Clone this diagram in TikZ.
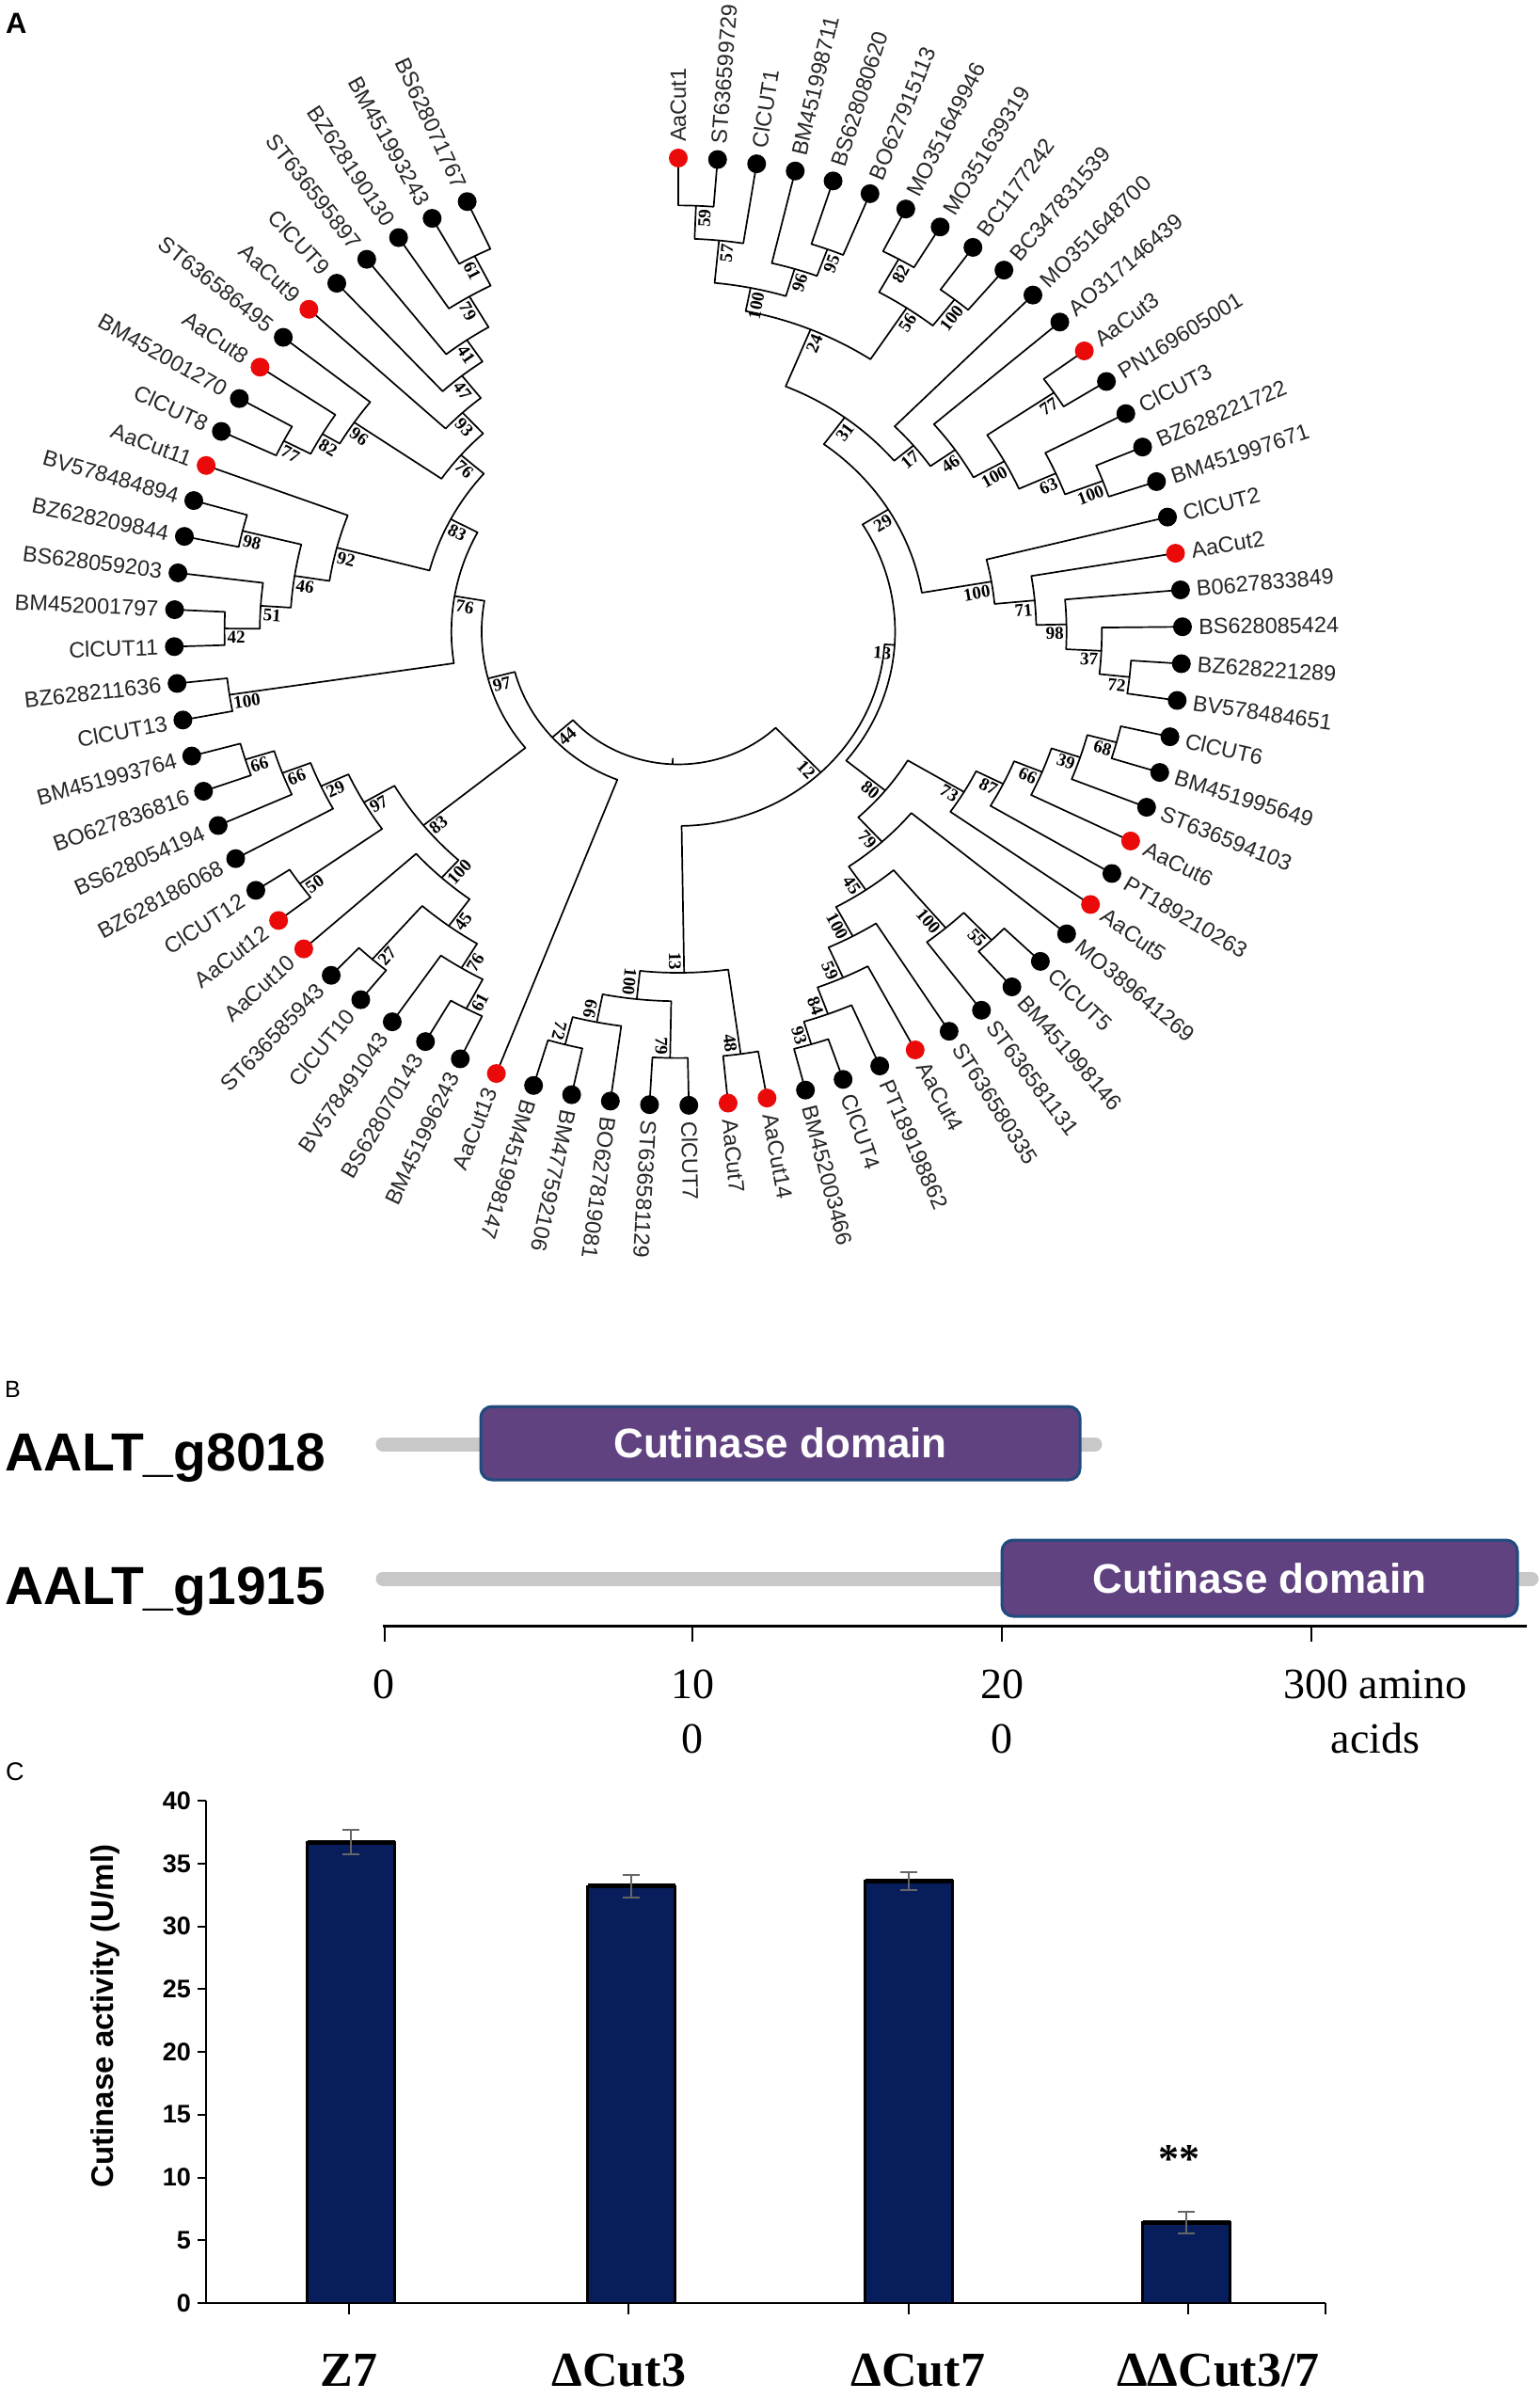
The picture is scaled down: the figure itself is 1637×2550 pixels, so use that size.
\documentclass[tikz,border=0pt]{standalone}
\usepackage{fontspec}
\setmainfont{Liberation Serif}
\newfontfamily\arialf{Liberation Sans}
\newfontfamily\tnrf{Liberation Serif}
\usetikzlibrary{calc}
\definecolor{rd}{RGB}{235,10,10}
\definecolor{bk}{RGB}{0,0,0}
\definecolor{dompurple}{RGB}{96,66,128}
\definecolor{domblue}{RGB}{30,75,125}
\definecolor{barnavy}{RGB}{8,30,92}
\definecolor{linegray}{RGB}{200,200,200}

\newcommand\clade[5]{%
 \edef\cAng{\csname ang-#2\endcsname}%
 \edef\cBng{\csname ang-#3\endcsname}%
 \edef\cRa{\csname rad-#2\endcsname}%
 \edef\cRb{\csname rad-#3\endcsname}%
 \pgfmathsetmacro\cMid{(\cAng+\cBng)/2}%
 \expandafter\xdef\csname ang-#1\endcsname{\cMid}%
 \expandafter\xdef\csname rad-#1\endcsname{#4}%
 \draw[branch] (\cAng:\cRa) -- (\cAng:#4) arc[start angle=\cAng, end angle=\cBng, radius=#4] -- (\cBng:\cRb);
 \coordinate (#1) at (\cMid:#4);
 \def\tmplab{#5}%
 \ifx\tmplab\empty\else
  \pgfmathtruncatemacro\cFlip{\cMid<-109}%
  \ifnum\cFlip=0
   \node[boot, anchor=north east, rotate=\cMid] (B#1) at ([shift={(\cMid+180:3pt)}, shift={(\cMid-90:3pt)}]\cMid:#4) {#5};
  \else
   \node[boot, anchor=north west, rotate=\cMid+180] (B#1) at ([shift={(\cMid+180:3pt)}, shift={(\cMid+90:3pt)}]\cMid:#4) {#5};
  \fi
 \fi
}

\def\leaflist{1/AaCut1/rd, 2/ST636599729/bk, 3/ClCUT1/bk, 4/BM451998711/bk, 5/BS628080620/bk, 6/BO627915113/bk, 7/MO351649946/bk, 8/MO351639319/bk, 9/BC1177242/bk, 10/BC347831539/bk, 11/MO351648700/bk, 12/AO317146439/bk, 13/AaCut3/rd, 14/PN169605001/bk, 15/ClCUT3/bk, 16/BZ628221722/bk, 17/BM451997671/bk, 18/ClCUT2/bk, 19/AaCut2/rd, 20/B0627833849/bk, 21/BS628085424/bk, 22/BZ628221289/bk, 23/BV578484651/bk, 24/ClCUT6/bk, 25/BM451995649/bk, 26/ST636594103/bk, 27/AaCut6/rd, 28/PT189210263/bk, 29/AaCut5/rd, 30/MO389641269/bk, 31/ClCUT5/bk, 32/BM451998146/bk, 33/ST636581131/bk, 34/ST636580335/bk, 35/AaCut4/rd, 36/PT189198862/bk, 37/ClCUT4/bk, 38/BM452003466/bk, 39/AaCut14/rd, 40/AaCut7/rd, 41/ClCUT7/bk, 42/ST636581129/bk, 43/BO627819081/bk, 44/BM477592106/bk, 45/BM451998147/bk, 46/AaCut13/rd, 47/BM451996243/bk, 48/BS628070143/bk, 49/BV578491043/bk, 50/ClCUT10/bk, 51/ST636585943/bk, 52/AaCut10/rd, 53/AaCut12/rd, 54/ClCUT12/bk, 55/BZ628186068/bk, 56/BS628054194/bk, 57/BO627836816/bk, 58/BM451993764/bk, 59/ClCUT13/bk, 60/BZ628211636/bk, 61/ClCUT11/bk, 62/BM452001797/bk, 63/BS628059203/bk, 64/BZ628209844/bk, 65/BV578484894/bk, 66/AaCut11/rd, 67/ClCUT8/bk, 68/BM452001270/bk, 69/AaCut8/rd, 70/ST636586495/bk, 71/AaCut9/rd, 72/ClCUT9/bk, 73/ST636595897/bk, 74/BZ628190130/bk, 75/BM451993243/bk, 76/BS628071767/bk}

\begin{document}
\begin{tikzpicture}[x=1pt,y=1pt,
 branch/.style={line width=1.7pt, line cap=round, line join=round},
 leafdot/.style={circle, inner sep=0pt, minimum size=20pt},
 leaflab/.style={font=\arialf\fontsize{23.5}{25}\selectfont, inner sep=0pt, text=black!85},
 boot/.style={font=\tnrf\bfseries\fontsize{19}{20}\selectfont, inner sep=0pt},
 panellab/.style={anchor=north west, inner sep=0pt},
 gene/.style={font=\arialf\bfseries\fontsize{57}{60}\selectfont, anchor=base west, inner sep=0pt},
 dombox/.style={rounded corners=12pt, fill=dompurple, draw=domblue, line width=3pt, text=white, font=\arialf\bfseries\fontsize{44}{48}\selectfont, inner sep=0pt},
 grayline/.style={line width=15pt, draw=linegray, line cap=round},
 ticklab/.style={font=\tnrf\fontsize{46}{58}\selectfont, anchor=north, align=center, inner sep=0pt},
 ylab/.style={font=\arialf\bfseries\fontsize{27}{27}\selectfont, anchor=east, inner sep=0pt},
 xlab/.style={font=\tnrf\bfseries\fontsize{52}{52}\selectfont, anchor=base, inner sep=0pt},
 errbar/.style={line width=2pt, draw=black!60},
]
\useasboundingbox (0,0) rectangle (1637,-2550);
\fill[white] (0,0) rectangle (1637,-2550);

% ---------------- Panel A ----------------
\node[panellab, font=\arialf\bfseries\fontsize{31}{31}\selectfont] (labA) at (6,-14) {A};

\begin{scope}[shift={(721,-671.5)}, x=536pt, y=503.5pt]
 % leaf angles and labels
 \foreach \i/\txt/\col in \leaflist {
  \pgfmathsetmacro\myang{90-(\i-1)*4.47}
  \expandafter\xdef\csname ang-L\i\endcsname{\myang}
  \expandafter\xdef\csname rad-L\i\endcsname{1}
  \pgfmathtruncatemacro\lFlip{\myang<-109}
  \ifnum\lFlip=0
   \node[leaflab, anchor=west, rotate=\myang] (T\i) at ([shift={(\myang:17pt)}]\myang:1) {\txt};
  \else
   \node[leaflab, anchor=east, rotate=\myang+180] (T\i) at ([shift={(\myang:17pt)}]\myang:1) {\txt};
  \fi
 }
 % top right
 \clade{c59}{L1}{L2}{0.90}{59}
 \clade{c57}{c59}{L3}{0.83}{57}
 \clade{c95}{L5}{L6}{0.86}{95}
 \clade{c96}{L4}{c95}{0.80}{96}
 \clade{c100a}{c57}{c96}{0.74}{100}
 \clade{c82}{L7}{L8}{0.90}{82}
 \clade{c100b}{L9}{L10}{0.89}{100}
 \clade{c56}{c82}{c100b}{0.82}{56}
 \clade{c24}{c100a}{c56}{0.69}{24}
 \clade{c77}{L13}{L14}{0.90}{77}
 \clade{c100c}{L16}{L17}{0.90}{100}
 \clade{c63}{L15}{c100c}{0.82}{63}
 \clade{c100d}{c77}{c63}{0.74}{100}
 \clade{c46}{L12}{c100d}{0.67}{46}
 \clade{c17}{L11}{c46}{0.61}{17}
 \clade{c31}{c24}{c17}{0.56}{31}
 \clade{c72}{L22}{L23}{0.90}{72}
 \clade{c37}{L21}{c72}{0.84}{37}
 \clade{c98}{L20}{c37}{0.77}{98}
 \clade{c71}{L19}{c98}{0.71}{71}
 \clade{c100e}{L18}{c71}{0.63}{100}
 \clade{c29}{c31}{c100e}{0.49}{29}
 % bottom right
 \clade{c68}{L24}{L25}{0.90}{68}
 \clade{c39}{c68}{L26}{0.84}{39}
 \clade{c66}{c39}{L27}{0.78}{66}
 \clade{c87}{c66}{L28}{0.72}{87}
 \clade{c73}{c87}{L29}{0.66}{73}
 \clade{c55}{L31}{L32}{0.90}{55}
 \clade{c100i}{c55}{L33}{0.82}{100}
 \clade{c93}{L37}{L38}{0.91}{93}
 \clade{c84}{L36}{c93}{0.86}{84}
 \clade{c59r}{L35}{c84}{0.80}{59}
 \clade{c100g}{L34}{c59r}{0.73}{100}
 \clade{c45r}{c100i}{c100g}{0.66}{45}
 \clade{c79r}{L30}{c45r}{0.60}{79}
 \clade{c80}{c73}{c79r}{0.53}{80}
 \clade{c13}{c29}{c80}{0.43}{13}
 % bottom
 \clade{c48}{L39}{L40}{0.90}{48}
 \clade{c79b}{L41}{L42}{0.90}{79}
 \clade{c72b}{L44}{L45}{0.90}{72}
 \clade{c66c}{L43}{c72b}{0.84}{66}
 \clade{c100h}{c79b}{c66c}{0.78}{100}
 \clade{c13b}{c48}{c100h}{0.72}{13}
 \clade{c12}{c13b}{c13}{0.41}{12}
 % left bottom
 \clade{c61L}{L47}{L48}{0.90}{61}
 \clade{c76b}{c61L}{L49}{0.83}{76}
 \clade{c27}{L50}{L51}{0.92}{27}
 \clade{c45L}{c76b}{c27}{0.77}{45}
 \clade{c100L}{c45L}{L52}{0.70}{100}
 \clade{c50}{L53}{L54}{0.92}{50}
 \clade{c66a}{L57}{L58}{0.90}{66}
 \clade{c66b}{L56}{c66a}{0.84}{66}
 \clade{c29L}{L55}{c66b}{0.78}{29}
 \clade{c97L2}{c50}{c29L}{0.72}{97}
 \clade{c83b}{c100L}{c97L2}{0.65}{83}
 % left top
 \clade{c100LL}{L59}{L60}{0.90}{100}
 \clade{c42}{L61}{L62}{0.90}{42}
 \clade{c51}{c42}{L63}{0.83}{51}
 \clade{c98L}{L64}{L65}{0.89}{98}
 \clade{c46L}{c51}{c98L}{0.77}{46}
 \clade{c92}{c46L}{L66}{0.70}{92}
 \clade{c77L}{L67}{L68}{0.88}{77}
 \clade{c82L}{c77L}{L69}{0.82}{82}
 \clade{c96L}{c82L}{L70}{0.78}{96}
 \clade{c61}{L75}{L76}{0.89}{61}
 \clade{c79L}{L74}{c61}{0.82}{79}
 \clade{c41}{L73}{c79L}{0.745}{41}
 \clade{c47}{L72}{c41}{0.69}{47}
 \clade{c93L}{L71}{c47}{0.63}{93}
 \clade{c76top}{c96L}{c93L}{0.57}{76}
 \clade{c83}{c92}{c76top}{0.51}{83}
 \clade{c76L}{c100LL}{c83}{0.45}{76}
 \clade{c97}{c83b}{c76L}{0.39}{97}
 \clade{c44}{c97}{L46}{0.335}{44}
 \clade{root}{c44}{c12}{0.28}{}
 \edef\rootang{\csname ang-root\endcsname}
 \draw[branch] (\rootang:0.28) -- (\rootang:0.268);
 % leaf dots
 \foreach \i/\txt/\col in \leaflist {
  \pgfmathsetmacro\myang{90-(\i-1)*4.47}
  \node[leafdot, fill=\col] (L\i) at (\myang:1) {};
 }
\end{scope}

% ---------------- Panel B ----------------
\node[panellab, font=\arialf\fontsize{25}{25}\selectfont] (labB) at (5,-1468) {B};
\node[gene] (g1) at (5,-1563) {AALT\_g8018};
\node[gene] (g2) at (5,-1705) {AALT\_g1915};
\coordinate (p1a) at (407,-1535); \coordinate (p1b) at (1164,-1535);
\coordinate (p2a) at (407,-1678); \coordinate (p2b) at (1628,-1678);
\draw[grayline] (p1a) -- (p1b);
\draw[grayline] (p2a) -- (p2b);
\node[dombox, minimum width=637pt, minimum height=78pt] (d1) at (829.5,-1534) {Cutinase domain};
\node[dombox, minimum width=548pt, minimum height=81pt] (d2) at (1339,-1677.5) {Cutinase domain};
\coordinate (ax0) at (407,-1728); \coordinate (ax1) at (1623,-1728);
\draw[line width=3pt] (ax0) -- (ax1);
\foreach \x in {409,736,1065,1394} \draw[line width=2.5pt] (\x,-1728) -- (\x,-1745);
\node[ticklab] (t0) at (408,-1775) {0};
\node[ticklab] (t100) at (736,-1775) {10\\0};
\node[ticklab] (t200) at (1065,-1775) {20\\0};
\node[ticklab] (t300) at (1462,-1775) {300 amino\\acids};

% ---------------- Panel C ----------------
\node[panellab, font=\arialf\fontsize{27}{27}\selectfont] (labC) at (6,-1873) {C};
\foreach \v in {0,5,...,40} {
  \draw[line width=2pt] (210,{-2448+\v*13.35}) -- (219,{-2448+\v*13.35});
  \node[ylab] at (203,{-2448+\v*13.35}) {\v};
}
\node[rotate=90, font=\arialf\bfseries\fontsize{33}{33}\selectfont, inner sep=0pt] (yaxl) at (112,-2143) {Cutinase activity (U/ml)};
\foreach \xc/\v/\e in {373/36.7/1.0, 671/33.2/0.9, 966/33.6/0.7, 1261/6.4/0.85} {
  \pgfmathsetmacro\ytop{-2448+\v*13.35}
  \pgfmathsetmacro\eh{\e*13.35}
  \fill[barnavy] ({\xc-46.5},-2448) rectangle ({\xc+46.5},\ytop);
  \draw[line width=2.5pt] ({\xc-46.5},-2448) -- ({\xc-46.5},\ytop) -- ({\xc+46.5},\ytop) -- ({\xc+46.5},-2448);
  \draw[line width=5pt] ({\xc-46.5},\ytop) -- ({\xc+46.5},\ytop);
  \draw[errbar] (\xc,{\ytop-\eh}) -- (\xc,{\ytop+\eh});
  \draw[errbar] ({\xc-9},{\ytop-\eh}) -- ({\xc+9},{\ytop-\eh});
  \draw[errbar] ({\xc-9},{\ytop+\eh}) -- ({\xc+9},{\ytop+\eh});
}
\draw[line width=2.5pt] (219,-1914) -- (219,-2448) -- (1409,-2448);
\foreach \x in {371,668,966,1263,1409} \draw[line width=2pt] (\x,-2448) -- (\x,-2460);
\node[font=\tnrf\bfseries\fontsize{44}{44}\selectfont, inner sep=0pt] (sig) at (1253,-2295) {**};
\node[xlab] (x1) at (371,-2536) {Z7};
\node[xlab] (x2) at (658,-2536) {ΔCut3};
\node[xlab] (x3) at (976,-2536) {ΔCut7};
\node[xlab] (x4) at (1295,-2536) {ΔΔCut3/7};
\end{tikzpicture}
\end{document}
